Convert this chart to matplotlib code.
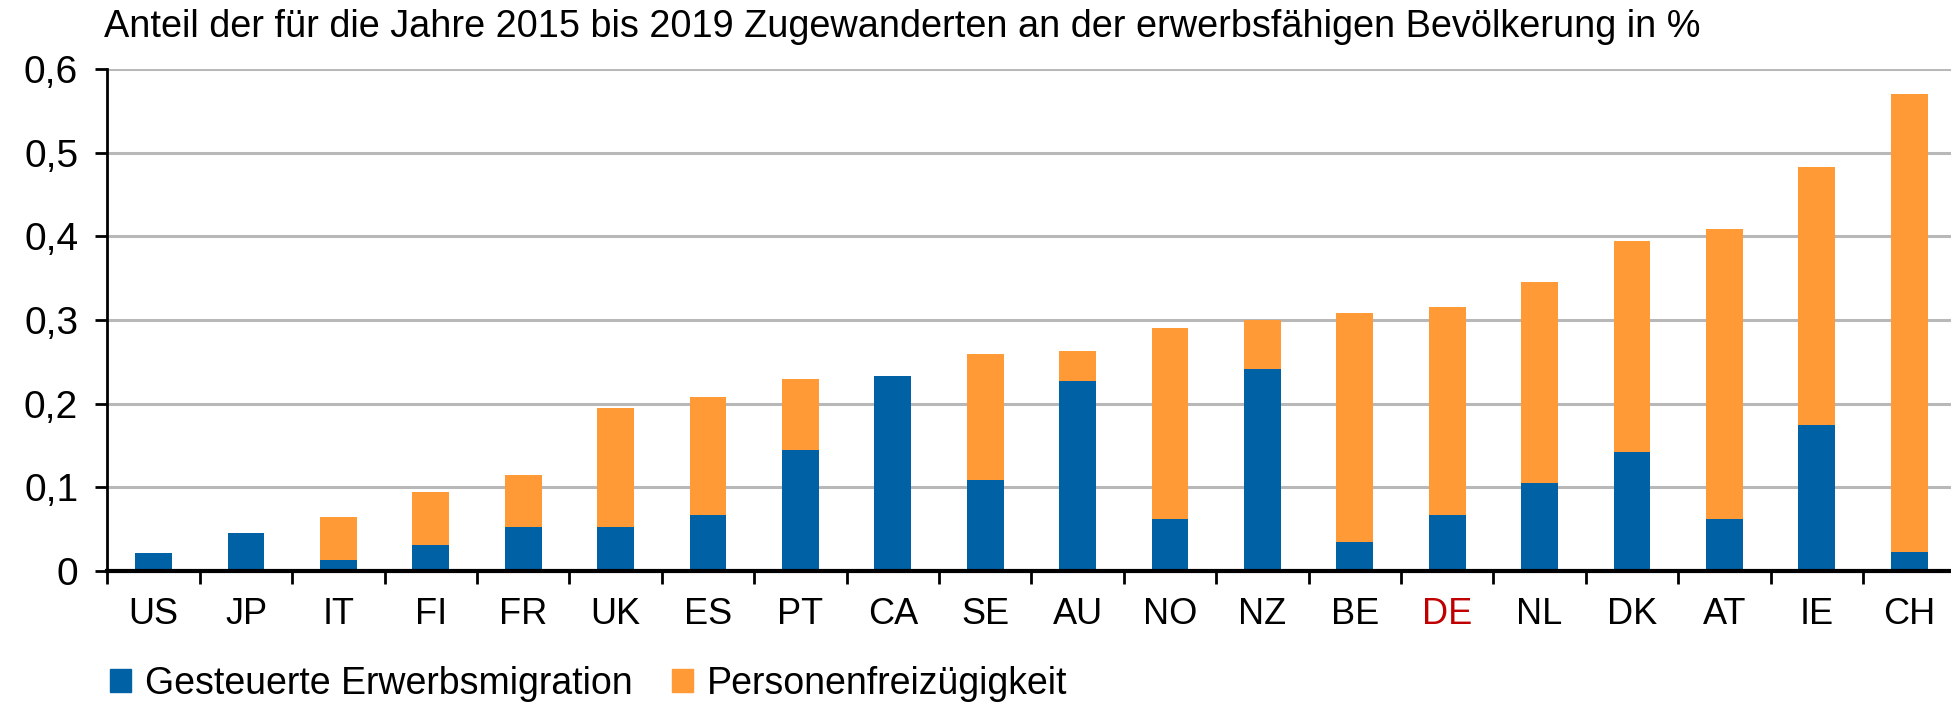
import numpy as np
import matplotlib
matplotlib.use('Agg')
import matplotlib.pyplot as plt
from matplotlib.patches import Patch

plt.rcParams['font.family'] = ['Liberation Sans', 'DejaVu Sans']

countries = ['US', 'JP', 'IT', 'FI', 'FR', 'UK', 'ES', 'PT', 'CA', 'SE',
             'AU', 'NO', 'NZ', 'BE', 'DE', 'NL', 'DK', 'AT', 'IE', 'CH']
# Gesteuerte Erwerbsmigration (blue, bottom)
erwerb = [0.021, 0.046, 0.013, 0.031, 0.052, 0.053, 0.067, 0.145, 0.233, 0.109,
          0.227, 0.062, 0.241, 0.035, 0.067, 0.105, 0.142, 0.062, 0.174, 0.023]
# totals
totals = [0.021, 0.046, 0.064, 0.094, 0.115, 0.195, 0.208, 0.230, 0.233, 0.259,
          0.263, 0.290, 0.300, 0.308, 0.315, 0.345, 0.395, 0.409, 0.483, 0.570]
freizueg = [t - e for t, e in zip(totals, erwerb)]

y_ticks = [0, 0.1, 0.2, 0.3, 0.4, 0.5, 0.6]
y_ticklabels = ['0', '0,1', '0,2', '0,3', '0,4', '0,5', '0,6']

title = 'Anteil der für die Jahre 2015 bis 2019 Zugewanderten an der erwerbsfähigen Bevölkerung in %'
labels = ['Gesteuerte Erwerbsmigration', 'Personenfreizügigkeit']
BLUE, ORANGE = '#0062a4', '#ff9a36'

W, H = 1951, 703
fig = plt.figure(figsize=(W / 100, H / 100), dpi=100)
ax = fig.add_axes([107.4 / W, (H - 571) / H, 1848 / W, 502 / H])

x = np.arange(len(countries))
ax.bar(x, erwerb, width=0.4, color=BLUE, zorder=3)
ax.bar(x, freizueg, width=0.4, bottom=erwerb, color=ORANGE, zorder=3)

ax.set_xlim(-0.5, len(countries) - 0.5)
ax.set_ylim(0, 0.6)
ax.set_yticks(y_ticks)
ax.set_yticklabels(y_ticklabels, fontsize=28)
ax.yaxis.grid(True, color='#b8b8b8', lw=2.2, zorder=0)
ax.set_axisbelow(True)

ax.set_xticks(x)
ax.set_xticklabels(countries, fontsize=26)
ax.set_xticks(np.arange(-0.5, len(countries) - 0.5, 1), minor=True)
ax.tick_params(axis='x', which='major', length=0, pad=19)
ax.tick_params(axis='x', which='minor', length=9, width=2, direction='out')
ax.tick_params(axis='y', length=9, width=2, pad=12)
for lab in ax.get_xticklabels():
    if lab.get_text() == 'DE':
        lab.set_color('#c00000')

for s in ['top', 'right']:
    ax.spines[s].set_visible(False)
ax.spines['left'].set_linewidth(2)
ax.spines['bottom'].set_linewidth(3)
ax.spines['bottom'].set_zorder(4)

fig.text(104 / W, (H - 37) / H, title, fontsize=27.3, va='baseline', ha='left')

handles = [Patch(color=BLUE), Patch(color=ORANGE)]
fig.legend(handles, labels, loc='center left', bbox_to_anchor=(110 / W, (H - 684) / H),
           ncol=2, frameon=False, fontsize=27, handlelength=0.56, handleheight=0.56,
           handletextpad=0.37, columnspacing=1.04, borderpad=0, borderaxespad=0)

fig.savefig('out.png', dpi=100)
